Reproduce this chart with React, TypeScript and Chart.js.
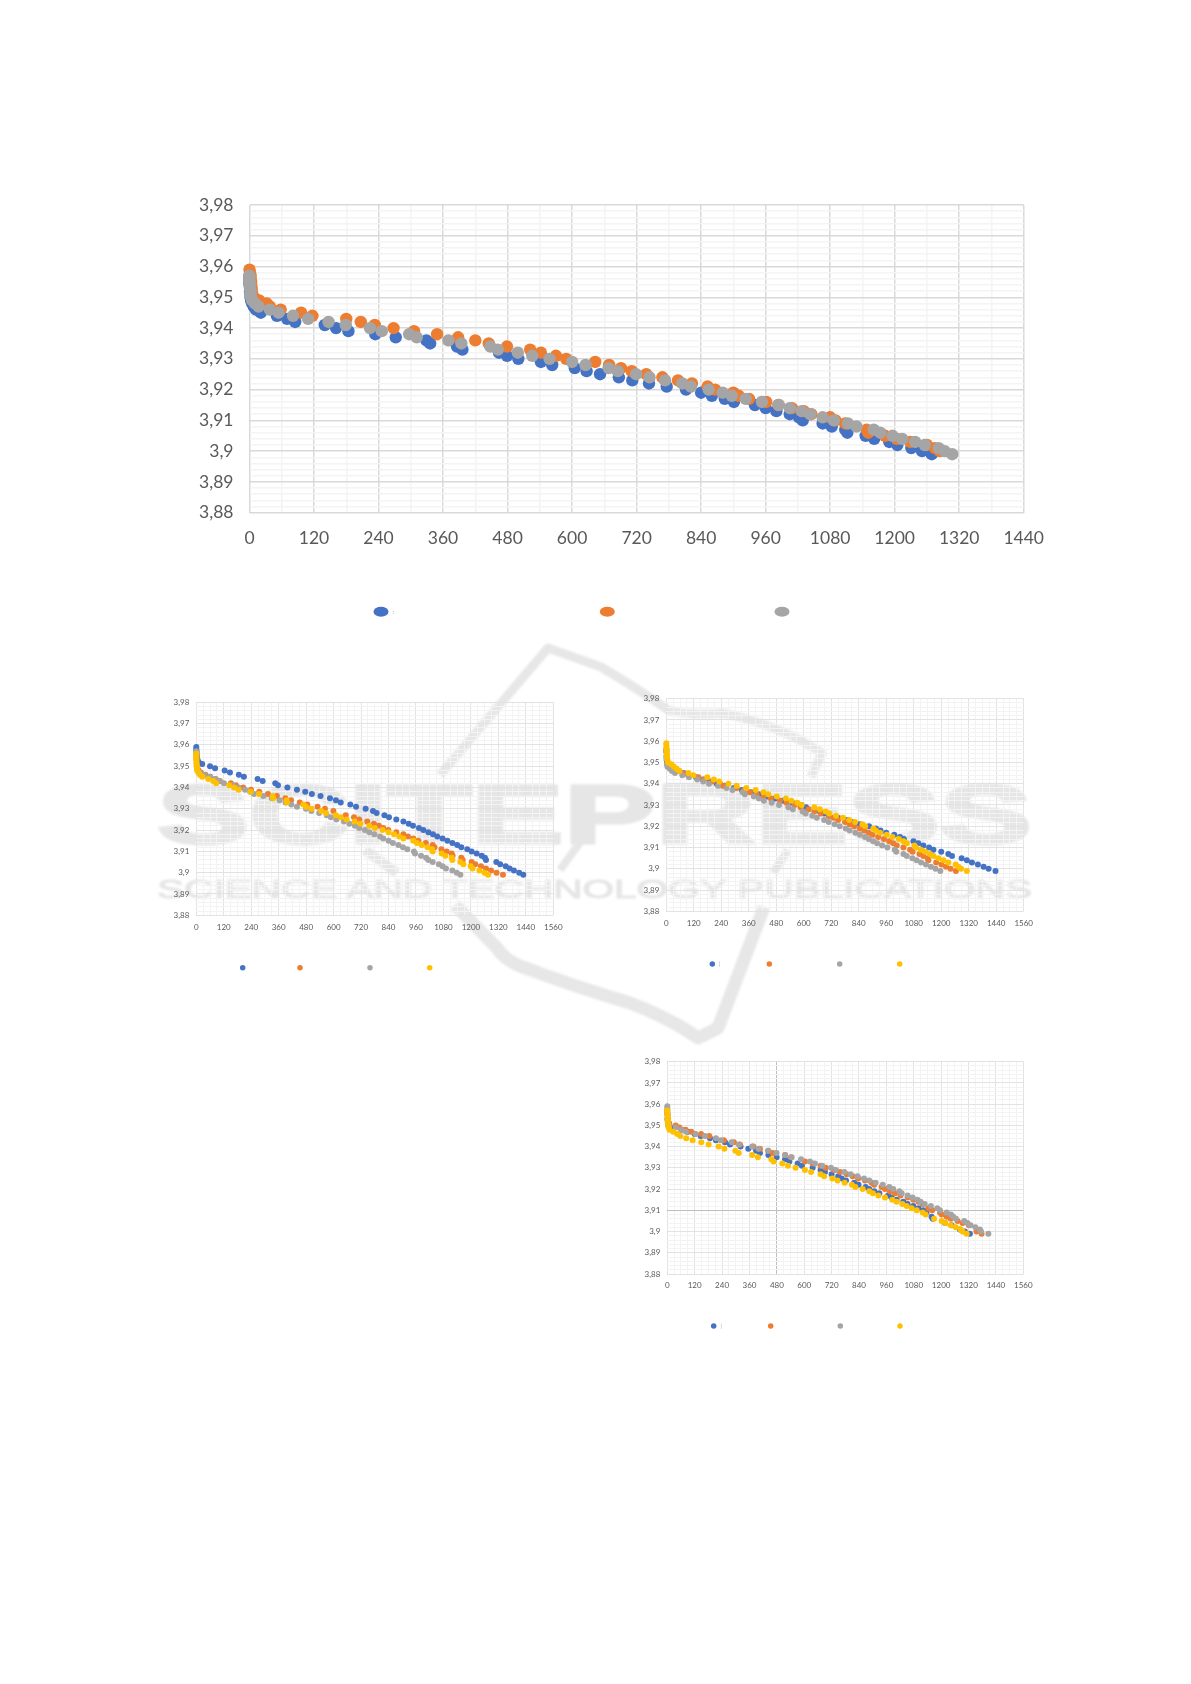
import React, { useEffect, useRef } from "react";
import { Chart, registerables } from "chart.js";

Chart.register(...registerables);

type Pt = [number, number];

const BLUE = "#4472C4";
const ORANGE = "#ED7D31";
const GRAY = "#A5A5A5";
const YELLOW = "#FFC000";

// ---- Large top chart ----
const topBlue: Pt[] = [[0,3.957],[0,3.956],[0,3.955],[0,3.954],[1,3.953],[1,3.952],[2,3.951],[2,3.95],[3,3.949],[5,3.948],[8,3.947],[12,3.946],[21,3.945],[51,3.944],[70,3.943],[85,3.942],[140,3.941],[161,3.94],[184,3.939],[234,3.938],[272,3.937],[329,3.936],[336,3.935],[386,3.934],[396,3.933],[464,3.932],[479,3.931],[500,3.93],[542,3.929],[563,3.928],[605,3.927],[627,3.926],[652,3.925],[687,3.924],[712,3.923],[743,3.922],[776,3.921],[812,3.92],[840,3.919],[860,3.918],[884,3.917],[901,3.916],[940,3.915],[960,3.914],[980,3.913],[1005,3.912],[1022,3.911],[1029,3.91],[1066,3.909],[1083,3.908],[1108,3.907],[1112,3.906],[1146,3.905],[1162,3.904],[1190,3.903],[1205,3.902],[1231,3.901],[1251,3.9],[1269,3.899]];
const topOrange: Pt[] = [[0,3.959],[1,3.958],[2,3.957],[2,3.956],[3,3.955],[3,3.954],[4,3.953],[4,3.952],[5,3.951],[8,3.95],[18,3.949],[32,3.948],[38,3.947],[58,3.946],[96,3.945],[117,3.944],[180,3.943],[207,3.942],[233,3.941],[268,3.94],[306,3.939],[349,3.938],[388,3.937],[420,3.936],[445,3.935],[479,3.934],[522,3.933],[542,3.932],[570,3.931],[589,3.93],[643,3.929],[669,3.928],[691,3.927],[711,3.926],[738,3.925],[768,3.924],[797,3.923],[823,3.922],[852,3.921],[866,3.92],[900,3.919],[910,3.918],[929,3.917],[961,3.916],[984,3.915],[1009,3.914],[1031,3.913],[1045,3.912],[1080,3.911],[1090,3.91],[1108,3.909],[1148,3.907],[1151,3.906],[1182,3.905],[1204,3.904],[1229,3.903],[1260,3.902],[1275,3.901],[1284,3.9]];
const topGray: Pt[] = [[0,3.957],[0,3.956],[0,3.955],[1,3.954],[1,3.953],[2,3.952],[2,3.951],[3,3.95],[5,3.949],[10,3.948],[17,3.947],[38,3.946],[54,3.945],[81,3.944],[109,3.943],[147,3.942],[179,3.941],[224,3.94],[246,3.939],[297,3.938],[311,3.937],[370,3.936],[394,3.935],[448,3.934],[462,3.933],[499,3.932],[526,3.931],[558,3.93],[600,3.929],[625,3.928],[668,3.927],[685,3.926],[719,3.925],[744,3.924],[773,3.923],[805,3.922],[821,3.921],[854,3.92],[880,3.919],[897,3.918],[923,3.917],[953,3.916],[984,3.915],[1005,3.914],[1027,3.913],[1043,3.912],[1066,3.911],[1087,3.91],[1113,3.909],[1129,3.908],[1161,3.907],[1173,3.906],[1196,3.905],[1214,3.904],[1238,3.903],[1256,3.902],[1282,3.901],[1293,3.9],[1307,3.899]];

// ---- Middle left chart ----
const leftBlue: Pt[] = [[0,3.959],[0,3.958],[1,3.957],[1,3.956],[2,3.955],[3,3.954],[5,3.953],[10,3.952],[26,3.951],[60,3.95],[82,3.949],[124,3.948],[147,3.947],[186,3.946],[208,3.945],[268,3.944],[290,3.943],[345,3.942],[357,3.941],[398,3.94],[440,3.939],[476,3.938],[505,3.937],[543,3.936],[584,3.935],[610,3.934],[631,3.933],[673,3.932],[698,3.931],[740,3.93],[772,3.929],[788,3.928],[822,3.927],[842,3.926],[874,3.925],[905,3.924],[928,3.923],[947,3.922],[973,3.921],[992,3.92],[1014,3.919],[1034,3.918],[1053,3.917],[1076,3.916],[1097,3.915],[1119,3.914],[1140,3.913],[1158,3.912],[1184,3.911],[1203,3.91],[1225,3.909],[1247,3.908],[1261,3.907],[1266,3.906],[1311,3.905],[1328,3.904],[1352,3.903],[1369,3.902],[1388,3.901],[1411,3.9],[1429,3.899]];
const leftOrange: Pt[] = [[1,3.955],[1,3.953],[2,3.951],[3,3.95],[5,3.949],[10,3.948],[20,3.947],[40,3.946],[60,3.945],[85,3.944],[103,3.943],[151,3.942],[173,3.941],[205,3.94],[239,3.939],[275,3.938],[313,3.937],[352,3.936],[389,3.935],[414,3.934],[452,3.933],[485,3.932],[530,3.931],[562,3.93],[599,3.929],[653,3.927],[689,3.926],[712,3.925],[747,3.924],[776,3.923],[798,3.922],[817,3.921],[839,3.92],[874,3.919],[905,3.918],[925,3.917],[948,3.916],[970,3.915],[1003,3.914],[1033,3.913],[1041,3.912],[1071,3.911],[1094,3.91],[1116,3.909],[1120,3.908],[1158,3.907],[1164,3.906],[1203,3.905],[1219,3.904],[1244,3.903],[1266,3.902],[1288,3.901],[1312,3.9],[1340,3.899]];
const leftGray: Pt[] = [[0,3.957],[1,3.954],[2,3.95],[5,3.948],[15,3.947],[35,3.946],[60,3.945],[80,3.944],[100,3.943],[121,3.942],[160,3.941],[185,3.94],[213,3.939],[235,3.938],[252,3.937],[293,3.936],[330,3.935],[364,3.934],[390,3.933],[415,3.932],[440,3.931],[479,3.93],[503,3.929],[537,3.928],[570,3.927],[588,3.926],[612,3.925],[645,3.924],[669,3.923],[693,3.922],[712,3.921],[737,3.92],[756,3.919],[778,3.918],[803,3.917],[817,3.916],[840,3.915],[859,3.914],[883,3.913],[903,3.912],[922,3.911],[951,3.91],[956,3.909],[982,3.908],[1004,3.907],[1014,3.906],[1033,3.905],[1060,3.904],[1076,3.903],[1091,3.902],[1119,3.901],[1138,3.9],[1154,3.899]];
const leftYellow: Pt[] = [[0,3.956],[0,3.955],[0,3.954],[0,3.953],[1,3.952],[1,3.951],[2,3.95],[3,3.949],[5,3.948],[9,3.947],[16,3.946],[26,3.945],[52,3.944],[74,3.943],[87,3.942],[144,3.941],[165,3.94],[185,3.939],[237,3.938],[274,3.937],[334,3.936],[336,3.935],[395,3.934],[396,3.933],[468,3.932],[479,3.931],[504,3.93],[546,3.929],[567,3.928],[610,3.927],[631,3.926],[657,3.925],[692,3.924],[717,3.923],[756,3.922],[780,3.921],[814,3.92],[840,3.919],[864,3.918],[887,3.917],[905,3.916],[948,3.915],[964,3.914],[985,3.913],[1010,3.912],[1030,3.911],[1033,3.91],[1072,3.909],[1088,3.908],[1116,3.907],[1119,3.906],[1154,3.905],[1167,3.904],[1199,3.903],[1207,3.902],[1237,3.901],[1259,3.9],[1275,3.899]];

// ---- Middle right chart ----
const rightBlue: Pt[] = [[0,3.956],[1,3.953],[2,3.951],[4,3.95],[8,3.949],[14,3.948],[30,3.947],[50,3.946],[75,3.945],[100,3.944],[130,3.943],[160,3.942],[190,3.941],[220,3.94],[255,3.939],[295,3.938],[330,3.937],[370,3.936],[405,3.935],[440,3.934],[475,3.933],[510,3.932],[550,3.931],[590,3.93],[610,3.929],[620,3.928],[670,3.927],[690,3.926],[710,3.925],[750,3.924],[790,3.923],[810,3.922],[845,3.921],[885,3.92],[915,3.919],[935,3.918],[960,3.917],[995,3.916],[1020,3.915],[1037,3.914],[1079,3.913],[1100,3.912],[1122,3.911],[1147,3.91],[1166,3.909],[1200,3.908],[1231,3.907],[1247,3.906],[1289,3.905],[1312,3.904],[1334,3.903],[1360,3.902],[1385,3.901],[1407,3.9],[1437,3.899]];
const rightOrange: Pt[] = [[0,3.955],[2,3.952],[5,3.95],[20,3.949],[30,3.948],[40,3.947],[55,3.946],[70,3.945],[95,3.944],[140,3.943],[165,3.942],[200,3.941],[235,3.94],[246,3.939],[307,3.938],[340,3.937],[365,3.936],[394,3.935],[425,3.934],[456,3.933],[496,3.932],[525,3.931],[560,3.93],[586,3.929],[620,3.928],[646,3.927],[674,3.926],[710,3.925],[730,3.924],[750,3.923],[780,3.922],[800,3.921],[820,3.92],[845,3.919],[864,3.918],[883,3.917],[900,3.916],[925,3.915],[950,3.914],[973,3.913],[990,3.912],[1006,3.911],[1035,3.91],[1064,3.909],[1075,3.908],[1105,3.907],[1122,3.906],[1141,3.905],[1144,3.904],[1178,3.903],[1201,3.902],[1221,3.901],[1241,3.9],[1264,3.899]];
const rightGray: Pt[] = [[0,3.955],[1,3.952],[3,3.949],[5,3.948],[15,3.947],[25,3.946],[38,3.945],[70,3.944],[99,3.943],[135,3.942],[161,3.941],[186,3.94],[226,3.939],[263,3.938],[289,3.937],[333,3.936],[343,3.935],[382,3.934],[404,3.933],[426,3.932],[460,3.931],[492,3.93],[533,3.929],[552,3.928],[595,3.927],[608,3.926],[637,3.925],[657,3.924],[689,3.923],[709,3.922],[735,3.921],[757,3.92],[783,3.919],[800,3.918],[825,3.917],[845,3.916],[867,3.915],[884,3.914],[903,3.913],[920,3.912],[942,3.911],[965,3.91],[997,3.909],[1004,3.908],[1035,3.907],[1050,3.906],[1074,3.905],[1093,3.904],[1112,3.903],[1133,3.902],[1155,3.901],[1175,3.9],[1196,3.899]];
const rightYellow: Pt[] = [[0,3.959],[0,3.958],[1,3.957],[1,3.956],[2,3.955],[2,3.954],[3,3.953],[3,3.952],[5,3.951],[8,3.95],[23,3.949],[33,3.948],[45,3.947],[57,3.946],[96,3.945],[118,3.944],[179,3.943],[208,3.942],[231,3.941],[271,3.94],[307,3.939],[349,3.938],[390,3.937],[424,3.936],[445,3.935],[482,3.934],[522,3.933],[546,3.932],[572,3.931],[591,3.93],[646,3.929],[670,3.928],[696,3.927],[712,3.926],[741,3.925],[771,3.924],[798,3.923],[824,3.922],[856,3.921],[868,3.92],[904,3.919],[914,3.918],[933,3.917],[962,3.916],[987,3.915],[1015,3.914],[1035,3.913],[1050,3.912],[1083,3.911],[1090,3.91],[1111,3.909],[1130,3.908],[1151,3.907],[1166,3.906],[1188,3.905],[1210,3.904],[1231,3.903],[1263,3.902],[1275,3.901],[1287,3.9],[1312,3.899]];

// ---- Lower right chart ----
const lowBlue: Pt[] = [[0,3.956],[1,3.953],[3,3.951],[5,3.95],[30,3.949],[63,3.948],[90,3.947],[120,3.946],[146,3.945],[187,3.944],[213,3.943],[253,3.942],[275,3.941],[321,3.94],[355,3.939],[389,3.938],[406,3.937],[443,3.936],[479,3.935],[516,3.934],[535,3.933],[571,3.932],[590,3.931],[637,3.93],[672,3.929],[691,3.928],[720,3.927],[749,3.926],[764,3.925],[783,3.924],[819,3.923],[838,3.922],[869,3.921],[885,3.92],[907,3.919],[929,3.918],[968,3.917],[983,3.916],[1005,3.915],[1034,3.914],[1053,3.913],[1078,3.912],[1101,3.911],[1122,3.91],[1136,3.909],[1158,3.907],[1163,3.906],[1217,3.904],[1246,3.903],[1282,3.901],[1304,3.9],[1326,3.899]];
const lowOrange: Pt[] = [[0,3.957],[1,3.955],[3,3.953],[8,3.951],[37,3.95],[53,3.949],[80,3.948],[105,3.947],[148,3.946],[184,3.945],[248,3.943],[292,3.942],[318,3.941],[377,3.94],[406,3.939],[443,3.938],[462,3.937],[516,3.936],[542,3.935],[603,3.933],[637,3.932],[672,3.931],[694,3.93],[730,3.929],[757,3.928],[786,3.927],[812,3.926],[836,3.925],[866,3.924],[895,3.923],[907,3.922],[939,3.921],[954,3.92],[976,3.919],[998,3.918],[1022,3.917],[1053,3.916],[1078,3.915],[1100,3.914],[1119,3.913],[1144,3.911],[1161,3.91],[1195,3.909],[1202,3.908],[1224,3.907],[1242,3.906],[1272,3.905],[1294,3.904],[1322,3.903],[1355,3.9],[1377,3.899]];
const lowGray: Pt[] = [[0,3.959],[0,3.958],[1,3.955],[1,3.953],[2,3.952],[4,3.951],[10,3.95],[37,3.949],[60,3.948],[82,3.947],[124,3.946],[165,3.945],[213,3.944],[234,3.943],[282,3.942],[313,3.941],[372,3.94],[399,3.939],[441,3.938],[479,3.937],[516,3.936],[545,3.935],[586,3.934],[625,3.933],[647,3.932],[679,3.931],[717,3.93],[739,3.929],[776,3.928],[803,3.927],[834,3.926],[862,3.925],[885,3.924],[913,3.923],[944,3.922],[973,3.921],[990,3.92],[1017,3.919],[1027,3.918],[1053,3.917],[1075,3.916],[1096,3.915],[1110,3.914],[1128,3.913],[1155,3.912],[1183,3.911],[1195,3.91],[1224,3.909],[1243,3.908],[1253,3.907],[1265,3.906],[1301,3.905],[1315,3.904],[1329,3.903],[1350,3.902],[1370,3.901],[1375,3.9],[1407,3.899]];
const lowYellow: Pt[] = [[0,3.957],[0,3.956],[1,3.955],[1,3.954],[2,3.953],[2,3.952],[3,3.951],[4,3.95],[6,3.949],[10,3.948],[26,3.947],[44,3.946],[57,3.945],[83,3.944],[111,3.943],[149,3.942],[181,3.941],[225,3.94],[250,3.939],[298,3.938],[313,3.937],[372,3.936],[397,3.935],[456,3.934],[466,3.933],[504,3.932],[529,3.931],[562,3.93],[603,3.929],[630,3.928],[672,3.927],[687,3.926],[723,3.925],[746,3.924],[777,3.923],[809,3.922],[824,3.921],[856,3.92],[885,3.919],[901,3.918],[925,3.917],[954,3.916],[986,3.915],[1005,3.914],[1030,3.913],[1049,3.912],[1071,3.911],[1093,3.91],[1119,3.909],[1132,3.908],[1169,3.906],[1202,3.905],[1218,3.904],[1242,3.903],[1264,3.902],[1285,3.901],[1294,3.9],[1312,3.899]];

const yMin = 3.88;
const yMax = 3.98;
const yStep = 0.002;

function yLabel(v: number): string {
  const thousandths = Math.round(v * 1000);
  if (thousandths % 10 !== 0) return "";
  return (thousandths / 1000).toFixed(2).replace(/0$/, "").replace(".", ",");
}

type Panel = {
  box: { left: number; top: number; width: number; height: number };
  plot: { l: number; r: number; t: number; b: number };
  series: { data: Pt[]; color: string }[];
  xMax: number;
  xStep: number;
  radius: number;
  font: number;
  pad: number;
  yPad: number;
  lineWidth: number;
  majorColor: string;
  minorColor: string;
  strongX?: number;
  strongY?: number;
  legendY: number;
  legendX: number[];
  legendW: number;
  legendH: number;
  stub: string;
  stubFont: number;
};

const panels: Panel[] = [
  {
    box: { left: 180, top: 170, width: 880, height: 460 },
    plot: { l: 249.5, r: 1023.7, t: 205, b: 512.7 },
    series: [{ data: topBlue, color: BLUE }, { data: topOrange, color: ORANGE }, { data: topGray, color: GRAY }],
    xMax: 1440, xStep: 60, radius: 6.2, font: 17.5, pad: 15, yPad: 16, lineWidth: 1.5,
    majorColor: "#D9D9D9", minorColor: "#F4F4F4",
    legendY: 611.7, legendX: [381, 607.3, 782], legendW: 15, legendH: 10, stub: ":", stubFont: 6,
  },
  {
    box: { left: 150, top: 680, width: 430, height: 300 },
    plot: { l: 196.3, r: 553.3, t: 702.3, b: 915.3 },
    series: [{ data: leftBlue, color: BLUE }, { data: leftOrange, color: ORANGE }, { data: leftGray, color: GRAY }, { data: leftYellow, color: YELLOW }],
    xMax: 1560, xStep: 30, radius: 3, font: 8, pad: 7, yPad: 7, lineWidth: 1,
    majorColor: "#E2E2E2", minorColor: "#F3F3F3",
    legendY: 967.7, legendX: [242.7, 300, 370, 429.7], legendW: 5.5, legendH: 5.5, stub: "", stubFont: 5,
  },
  {
    box: { left: 620, top: 675, width: 430, height: 300 },
    plot: { l: 666.3, r: 1023.7, t: 698.7, b: 911.3 },
    series: [{ data: rightBlue, color: BLUE }, { data: rightOrange, color: ORANGE }, { data: rightGray, color: GRAY }, { data: rightYellow, color: YELLOW }],
    xMax: 1560, xStep: 30, radius: 3, font: 8, pad: 7, yPad: 7, lineWidth: 1,
    majorColor: "#E2E2E2", minorColor: "#F3F3F3",
    legendY: 964, legendX: [712.3, 769.3, 839.7, 899.7], legendW: 5.5, legendH: 5.5, stub: "|", stubFont: 5,
  },
  {
    box: { left: 620, top: 1040, width: 430, height: 300 },
    plot: { l: 667.3, r: 1023.3, t: 1061.7, b: 1274 },
    series: [{ data: lowBlue, color: BLUE }, { data: lowOrange, color: ORANGE }, { data: lowGray, color: GRAY }, { data: lowYellow, color: YELLOW }],
    xMax: 1560, xStep: 30, radius: 3, font: 8, pad: 7, yPad: 7, lineWidth: 1,
    majorColor: "#E2E2E2", minorColor: "#F3F3F3", strongX: 480, strongY: 3.91,
    legendY: 1326, legendX: [713.7, 770.7, 840.3, 900], legendW: 5.5, legendH: 5.5, stub: "|", stubFont: 5,
  },
];

function ChartPanel({ p }: { p: Panel }) {
  const ref = useRef<HTMLCanvasElement | null>(null);
  useEffect(() => {
    const { box, plot } = p;
    const legendPlugin = {
      id: "markerLegend",
      afterDraw(chart: any) {
        const ctx = chart.ctx;
        ctx.save();
        p.series.forEach((s, i) => {
          const cx = p.legendX[i] - box.left;
          const cy = p.legendY - box.top;
          ctx.fillStyle = s.color;
          ctx.beginPath();
          ctx.ellipse(cx, cy, p.legendW / 2, p.legendH / 2, 0, 0, Math.PI * 2);
          ctx.fill();
          if (i === 0 && p.stub) {
            ctx.fillStyle = "#9A9A9A";
            ctx.font = `${p.stubFont}px Lato`;
            ctx.textBaseline = "middle";
            ctx.fillText(p.stub, cx + p.legendW / 2 + 4, cy);
          }
        });
        ctx.restore();
      },
    };
    const chart = new Chart(ref.current as HTMLCanvasElement, {
      type: "scatter",
      data: {
        datasets: p.series.map((s, i) => ({
          data: s.data.map(([x, y]) => ({ x, y })),
          backgroundColor: s.color,
          borderWidth: 0,
          pointRadius: p.radius,
          pointHoverRadius: p.radius,
          showLine: false,
          clip: false as any,
          order: p.series.length - i,
        })),
      },
      options: {
        animation: false,
        responsive: false,
        devicePixelRatio: 1,
        layout: {
          autoPadding: false,
          padding: { left: 0, top: plot.t - box.top, right: box.left + box.width - plot.r, bottom: 0 },
        },
        plugins: { legend: { display: false }, tooltip: { enabled: false }, title: { display: false } },
        scales: {
          x: {
            type: "linear",
            min: 0,
            max: p.xMax,
            afterFit(scale: any) {
              scale.height = box.top + box.height - plot.b;
              scale.paddingLeft = 0;
              scale.paddingRight = 0;
            },
            border: { display: false },
            grid: {
              drawTicks: false,
              lineWidth: p.lineWidth,
              color: (c: any) => {
                const v = Math.round(c.tick.value);
                if (p.strongX === v) return "#BFBFBF";
                return v % 120 === 0 ? p.majorColor : p.minorColor;
              },
            },
            ticks: {
              stepSize: p.xStep,
              autoSkip: false,
              maxRotation: 0,
              padding: p.pad,
              color: "#595959",
              font: { family: "Lato", size: p.font },
              callback: (v: any) => (Math.round(v) % 120 === 0 ? String(Math.round(v)) : ""),
            },
          },
          y: {
            type: "linear",
            min: yMin,
            max: yMax,
            afterFit(scale: any) {
              scale.width = plot.l - box.left;
              scale.paddingTop = 0;
              scale.paddingBottom = 0;
            },
            border: { display: false },
            grid: {
              drawTicks: false,
              lineWidth: p.lineWidth,
              color: (c: any) => {
                const t = Math.round(c.tick.value * 1000);
                if (p.strongY !== undefined && t === Math.round(p.strongY * 1000)) return "#BFBFBF";
                return t % 10 === 0 ? p.majorColor : p.minorColor;
              },
            },
            ticks: {
              stepSize: yStep,
              autoSkip: false,
              padding: p.yPad,
              color: "#595959",
              font: { family: "Lato", size: p.font },
              callback: (v: any) => yLabel(Number(v)),
            },
          },
        },
      },
      plugins: [legendPlugin],
    } as any);
    return () => chart.destroy();
  }, [p]);
  return (
    <canvas
      ref={ref}
      width={p.box.width}
      height={p.box.height}
      style={{
        position: "absolute",
        left: p.box.left,
        top: p.box.top,
        width: p.box.width,
        height: p.box.height,
        filter: "blur(0.5px)",
      }}
    />
  );
}

function Watermark() {
  const stroke = { fill: "none", stroke: "#E7E7E7", strokeLinejoin: "round" as const, strokeLinecap: "butt" as const };
  return (
    <svg
      width={1191}
      height={1684}
      style={{ position: "absolute", left: 0, top: 0, filter: "blur(0.8px)" }}
    >
      <path d="M440 775 L548 648 L601 667 Q640 690 668 710 Q690 716 723 713 Q780 725 822 753 L811 777" strokeWidth={9} {...stroke} />
      <path d="M365 850 L397 873" strokeWidth={10} {...stroke} />
      <path d="M560 870 L589 830" strokeWidth={8} {...stroke} />
      <path d="M773 873 L788 850" strokeWidth={8} {...stroke} />
      <path d="M455 905 L496 947 Q505 960 520 966 Q570 985 630 1003 Q670 1018 698 1038 L718 1028 L764 907" strokeWidth={13} {...stroke} />
      <text
        x={157}
        y={843}
        textLength={875}
        lengthAdjust="spacingAndGlyphs"
        fontFamily="'Liberation Sans'"
        fontWeight={700}
        fontSize={84}
        fill="#E6E6E6"
        stroke="#E6E6E6"
        strokeWidth={3}
      >
        SCITEPRESS
      </text>
      <text
        x={157}
        y={898}
        textLength={875}
        lengthAdjust="spacingAndGlyphs"
        fontFamily="'Liberation Sans'"
        fontWeight={400}
        fontSize={25}
        fill="#E6E6E6"
        stroke="#E6E6E6"
        strokeWidth={1}
      >
        SCIENCE AND TECHNOLOGY PUBLICATIONS
      </text>
    </svg>
  );
}

export default function App() {
  return (
    <div style={{ position: "absolute", left: 0, top: 0, width: 1191, height: 1684, background: "#fff", overflow: "hidden" }}>
      <Watermark />
      {panels.map((p, i) => (
        <ChartPanel key={i} p={p} />
      ))}
    </div>
  );
}
